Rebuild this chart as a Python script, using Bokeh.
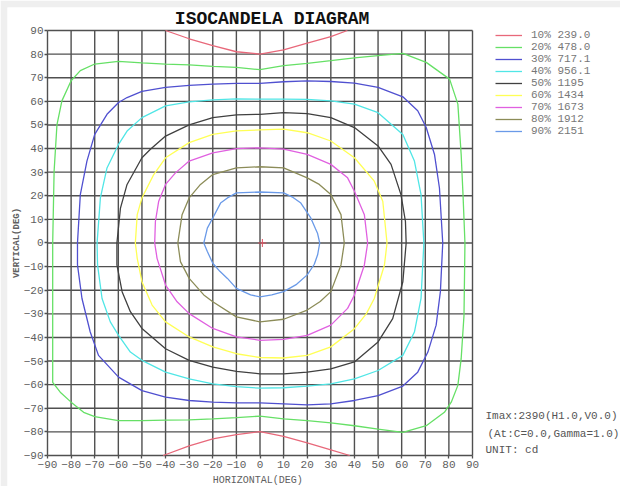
import math
from bokeh.plotting import figure
from bokeh.models import Range1d, FixedTicker, Label, Legend, LegendItem, LinearAxis
from bokeh.embed import file_html
from bokeh.resources import INLINE

# ---------------- data ----------------
level_pct = [10, 20, 30, 40, 50, 60, 70, 80, 90]
level_cd = ["239.0", "478.0", "717.1", "956.1", "1195", "1434", "1673", "1912", "2151"]
level_colors = ["#e8687a", "#66e066", "#5050d0", "#50e6e6", "#404040",
                "#ffff55", "#e060e0", "#8c8c58", "#6a9ae8"]
ticks = [-90, -80, -70, -60, -50, -40, -30, -20, -10, 0, 10, 20, 30, 40, 50, 60, 70, 80, 90]

imax_cd = 2390
imax_h = 1.0
imax_v = 0.0

# 10% (two arcs)
c10_top_x = [-40, -30, -20, -10, 0, 10, 20, 30, 37]
c10_top_y = [90, 86.5, 83.6, 81.0, 80.0, 81.8, 84.6, 87.4, 90]
c10_bot_x = [-41, -30, -20, -10, 0, 10, 20, 30, 38]
c10_bot_y = [-90, -85.9, -83.0, -81.2, -79.9, -81.9, -84.7, -87.6, -90]

# 20%
c20_x = [0, -10, -20, -30, -40, -50, -60, -70, -76.1, -80, -83.9, -86, -87.2, -87.8,
         -87.8, -87.8, -87.8, -84.6, -80, -74.7, -70, -60, -50, -40, -30, -20, -10, 0,
         10, 20, 30, 40, 50, 60.5, 70.4, 78.1, 81, 83.8, 85.2, 86.4, 86.8, 86.0, 85.2,
         83.8, 80.3, 70.4, 60.5, 50, 40, 30, 20, 10, 0]
c20_y = [73.4, 74.4, 74.8, 75.4, 75.8, 76.3, 76.9, 75.8, 73.0, 68.7, 60.2, 50.0, 30.4, 0,
         -30, -51.8, -59.0, -63.2, -67.4, -71.7, -73.5, -75.2, -75.2, -75.0, -74.9, -74.5, -74.0, -73.3,
         -74.5, -75.2, -76.2, -77.4, -78.8, -80.2, -77.4, -71.7, -67.4, -60.3, -49.0, -30.6, 0, 20.0, 37.5,
         58.8, 69.4, 76.5, 80.3, 79.4, 78.4, 77.2, 76.1, 75.1, 73.4]

# 30%
c30_x = [0, -10, -20, -30, -40, -50, -56.3, -59.9, -64.8, -70, -73.3, -76.1, -77.3,
         -77.3, -75.4, -71.9, -68.4, -59.9, -50, -40, -30, -20, -10, 0,
         10, 20, 30, 40, 50, 60.5, 66.8, 71.1, 74.6, 76.4, 77.4,
         76.0, 73.9, 70.4, 66.8, 60.5, 50, 40, 30, 20, 10, 0]
c30_y = [67.6, 67.6, 67.3, 66.8, 65.9, 64.2, 61.6, 59.5, 54.5, 46.0, 34.7, 20.5, 0,
         -9.3, -23.5, -37.7, -47.6, -56.8, -62.5, -65.3, -66.7, -67.4, -67.7, -67.7,
         -68.1, -68.6, -68.1, -66.7, -64.6, -60.6, -54.7, -46.2, -34.8, -20.6, 0,
         23.3, 37.5, 48.9, 56.0, 61.9, 65.9, 67.7, 68.4, 68.7, 68.3, 67.6]

# 40%
c40_x = [0, -10, -20, -30, -40, -50, -56.3, -59.9, -64.8, -67.6, -69,
         -68.8, -66.9, -63.4, -59.9, -54.9, -50, -40, -30, -20, -10, 0,
         10, 20, 30, 40, 50, 60.5, 65.4, 68.2, 69.4,
         68.2, 65.4, 60.5, 50, 40, 30, 20, 10, 0]
c40_y = [60.9, 61.0, 60.6, 59.8, 58.1, 53.1, 47.4, 41.8, 31.8, 19.1, 0,
         -9.3, -23.5, -33.4, -39.1, -46.2, -49.7, -54.7, -57.5, -59.7, -60.8, -61.5,
         -61.3, -60.6, -59.7, -57.5, -54.0, -47.6, -37.7, -23.5, 0,
         20.5, 34.7, 46.0, 55.2, 58.8, 60.2, 60.8, 60.9, 60.9]

# 50%
c50_x = [0, -10, -20, -30, -40, -46.4, -50, -56.3, -59.1, -60.6,
         -60.6, -58.4, -54.9, -50, -40, -30, -20, -10, 0,
         10, 20, 30, 40, 50, 56.2, 60.5, 61.9,
         61.6, 59.7, 55.5, 50, 40, 30, 20, 10, 0]
c50_y = [54.5, 54.3, 53.1, 50.0, 45.3, 39.7, 36.1, 24.8, 14.8, 0,
         -9.3, -20.6, -29.1, -36.2, -44.8, -49.7, -52.6, -54.4, -55.4,
         -55.4, -54.7, -53.3, -50.4, -41.9, -32.0, -16.4, 0,
         9.1, 20.5, 33.3, 41.1, 48.9, 53.1, 54.8, 55.2, 54.5]

# 60%
c60_x = [0, -10, -20, -30, -40, -45, -50, -52, -52.8,
         -52, -50, -45.7, -40, -30, -20, -10, 0,
         10, 20, 30, 40, 45, 48.4, 52.7, 53.8,
         52, 48.4, 40, 30, 20, 10, 0]
c60_y = [47.9, 47.5, 46.0, 42.5, 36.1, 29.0, 19.1, 12.0, 0,
         -6.5, -16.4, -26.3, -33.4, -39.8, -44.0, -46.9, -48.5,
         -48.7, -47.6, -44.0, -36.3, -30.0, -23.5, -9.3, 0,
         17.7, 26.2, 36.1, 43.2, 46.7, 48.2, 47.9]

# 70%
c70_x = [0, -10, -20, -30, -35.8, -40, -42.9, -44.3, -44.6,
         -43.6, -40, -35.1, -30, -20, -10, 0,
         10, 20, 30, 37.1, 40, 44.2, 45.6,
         44.2, 40, 37.1, 30, 20, 10, 0]
c70_y = [40.3, 40.0, 38.2, 34.7, 29.7, 24.8, 17.7, 9.1, 0,
         -6.5, -17.8, -24.9, -29.9, -36.2, -39.8, -41.2,
         -40.8, -39.1, -34.8, -27.7, -22.0, -9.3, 0,
         12.0, 21.9, 27.6, 33.3, 37.5, 39.8, 40.3]

# 80%
c80_x = [0, -10, -20, -25.2, -30, -33, -34.8, -33.7, -30, -23.8, -20, -10, 0,
         10, 20, 25.5, 30, 34.3, 35.7, 34.3, 30, 25.1, 20, 10, 0]
c80_y = [32.3, 31.8, 29.0, 24.8, 19.1, 12.0, 0, -7.9, -15.0, -22.0, -24.9, -31.3, -33.4,
         -32.3, -28.4, -24.8, -20.6, -9.3, 0, 12.0, 20.5, 24.8, 27.6, 31.8, 32.3]

# 90%
c90_x = [0, -10, -13.8, -16.7, -20, -22.3, -23.8, -22.3, -20, -17, -13.8, -10, -4, 0,
         5, 10, 15.5, 20, 23, 24.4, 25.3, 24.4, 23.5, 21.5, 17.3, 14, 10, 0]
c90_y = [21.6, 21.2, 19.1, 16.9, 10.6, 6.3, 0, -3.6, -8.6, -12.0, -15.0, -19.2, -22.0, -22.8,
         -22.0, -20.6, -17.5, -13.5, -9.0, -5.0, 0, 4.0, 6.0, 10.6, 16.9, 19.3, 21.2, 21.6]

# ---------------- figure ----------------
# The frame fills the canvas (except a thin grey strip at top/left) so that
# every annotation lives inside it and is not clipped.
p = figure(width=620, height=486, output_backend="svg", toolbar_location=None,
           x_range=Range1d(-106.94, 152.68), y_range=Range1d(-103.13, 99.74),
           x_axis_location=None, y_axis_location=None,
           min_border_left=7, min_border_top=7, min_border_right=0, min_border_bottom=0)
p.background_fill_color = "white"
p.border_fill_color = "#efefef"
p.outline_line_color = None
p.grid.visible = False

# grid (every 10 degrees) from the tick array
grid_color = "#505050"
p.multi_line([[t, t] for t in ticks], [[ticks[0], ticks[-1]] for _ in ticks],
             line_color=grid_color, line_width=1.4)
p.multi_line([[ticks[0], ticks[-1]] for _ in ticks], [[t, t] for t in ticks],
             line_color=grid_color, line_width=1.4)


def make_axis():
    ax = LinearAxis(fixed_location=ticks[0], bounds=(ticks[0], ticks[-1]),
                    ticker=FixedTicker(ticks=ticks))
    ax.axis_line_color = None
    ax.major_tick_in = 0
    ax.major_tick_out = 3
    ax.major_tick_line_color = grid_color
    ax.major_tick_line_width = 1.3
    ax.minor_tick_line_color = None
    ax.major_label_text_font = "Liberation Mono"
    ax.major_label_text_font_size = "11px"
    ax.major_label_text_color = "#606060"
    return ax


xax = make_axis()
xax.major_label_standoff = 3
p.add_layout(xax, "below")
yax = make_axis()
yax.major_label_standoff = 1
p.add_layout(yax, "left")

lw = 1.3
r10 = p.line(c10_top_x, c10_top_y, line_color=level_colors[0], line_width=lw)
p.line(c10_bot_x, c10_bot_y, line_color=level_colors[0], line_width=lw)
curves = [(c20_x, c20_y), (c30_x, c30_y), (c40_x, c40_y), (c50_x, c50_y),
          (c60_x, c60_y), (c70_x, c70_y), (c80_x, c80_y), (c90_x, c90_y)]
renderers = [r10]
for i, (cx, cy) in enumerate(curves):
    renderers.append(p.line(cx, cy, line_color=level_colors[i + 1], line_width=lw))

p.scatter([imax_h], [imax_v], marker="cross", size=8, line_color="#e05060", line_width=1)

items = [LegendItem(label=f"{level_pct[i]}% {level_cd[i]}", renderers=[renderers[i]])
         for i in range(len(level_pct))]
legend = Legend(items=items, location=(488, 349), border_line_color=None,
                background_fill_alpha=0, padding=0, margin=0, spacing=0,
                glyph_width=27, glyph_height=12, label_height=12, label_standoff=9,
                label_text_font="Liberation Mono", label_text_font_size="11px",
                label_text_color="#777777")
p.add_layout(legend)

p.add_layout(Label(x=5.1, y=94.7, text="ISOCANDELA DIAGRAM", text_font="Liberation Mono",
                   text_font_style="bold", text_font_size="18px", text_color="#111111",
                   text_align="center", text_baseline="middle"))
p.add_layout(Label(x=-103.1, y=0, text="VERTICAL(DEG)", angle=math.pi / 2,
                   text_font="Liberation Mono", text_font_style="bold", text_font_size="9px",
                   text_color="#606060", text_align="center", text_baseline="middle"))
p.add_layout(Label(x=-1.0, y=-100.6, text="HORIZONTAL(DEG)",
                   text_font="Liberation Mono", text_font_size="10px",
                   text_color="#606060", text_align="center", text_baseline="middle"))
p.add_layout(Label(x=95.5, y=-73.1, text=f"Imax:{imax_cd}(H{imax_h:.1f},V{imax_v:.1f})",
                   text_font="Liberation Mono", text_font_size="11px",
                   text_color="#555555", text_align="left", text_baseline="middle"))
p.add_layout(Label(x=96.3, y=-80.7, text="(At:C=0.0,Gamma=1.0)",
                   text_font="Liberation Mono", text_font_size="11px",
                   text_color="#555555", text_align="left", text_baseline="middle"))
p.add_layout(Label(x=95.5, y=-87.5, text="UNIT: cd",
                   text_font="Liberation Mono", text_font_size="11px",
                   text_color="#555555", text_align="left", text_baseline="middle"))

open("out.html", "w").write(file_html(p, INLINE))
